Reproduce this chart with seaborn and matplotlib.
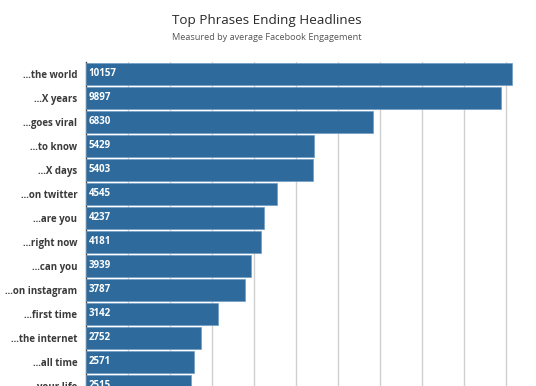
"""
    Horizontal bar chart: top phrases ending headlines.
"""

import matplotlib
matplotlib.use('Agg')
import matplotlib.pyplot as plt
import seaborn as sns
import pandas as pd

#data
phrases= ['...the world', '...X years', '...goes viral', '...to know', '...X days',
          '...on twitter', '...are you', '...right now', '...can you', '...on instagram',
          '...first time', '...the internet', '...all time', '...your life']
engagement= [10157, 9897, 6830, 5429, 5403, 4545, 4237, 4181, 3939, 3787,
             3142, 2752, 2571, 2515]

df= pd.DataFrame({'phrase': phrases, 'engagement': engagement})

sns.set_style('white')
plt.rcParams['font.family']= ['Open Sans', 'DejaVu Sans']

fig= plt.figure(figsize=(5.36, 3.86), dpi=100)
#axes runs off the bottom and right of the figure, the reference is cropped there
ax= fig.add_axes([0.1599, -0.031, 0.862, 0.8705])

bar_color= '#2e6b9c'
sns.barplot(data=df, x='engagement', y='phrase', orient='h', color=bar_color,
            saturation=1, width=0.88, edgecolor='#6f9cc4', linewidth=0.5, ax=ax, zorder=3)

#value labels inside the bars
for p, v in zip(ax.patches, engagement):
    ax.text(p.get_x() + 70, p.get_y() + p.get_height()/2, str(v),
            color='white', fontsize=7, fontweight='bold', va='center', ha='left', zorder=4)

ax.set_xlim(0, 11000)
ax.set_xticks(range(1000, 11001, 1000))
ax.xaxis.grid(True, color='#d0d0d0', linewidth=1.0, zorder=0)
ax.tick_params(axis='x', labelbottom=False, length=0)
ax.tick_params(axis='y', length=0, labelsize=7, labelcolor='#3a3a3a', pad=6)
for lab in ax.get_yticklabels():
    lab.set_fontweight('bold')
ax.set_xlabel('')
ax.set_ylabel('')
for side in ['top', 'right', 'bottom']:
    ax.spines[side].set_visible(False)
ax.spines['left'].set_color('#444444')
ax.spines['left'].set_linewidth(1.0)

fig.text(0.498, 0.9456, 'Top Phrases Ending Headlines', ha='center', va='center',
         fontsize=9.7, color='#2a2a2a')
fig.text(0.498, 0.903, 'Measured by average Facebook Engagement', ha='center', va='center',
         fontsize=6.6, color='#555555')

fig.savefig('out.png', dpi=100)
